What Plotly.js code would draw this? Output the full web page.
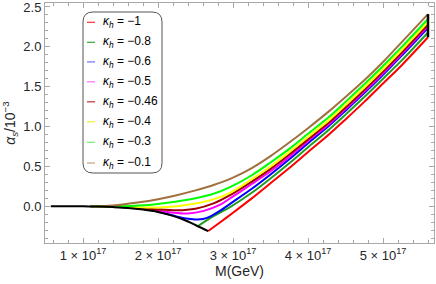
<!DOCTYPE html>
<html>
<head>
<meta charset="utf-8">
<script src="https://cdn.plot.ly/plotly-3.0.1.min.js"></script>
<style>
html,body{margin:0;padding:0;background:#fff;}
#chart{width:436px;height:284px;}
</style>
</head>
<body>
<div id="chart"></div>
<script>
// M in units of 10^17 GeV, alpha_s in units of 10^-3
const kappaLabels = ['−1', '−0.8', '−0.6', '−0.5', '−0.46', '−0.4', '−0.3', '−0.1'];
const curveColors = ['#ff0000', '#1f9e1f', '#0000ff', '#ff00ff', '#a00000', '#ffff00', '#00ff00', '#a0703f'];
const legendColors = ['#ff3030', '#33aa33', '#7070ff', '#ff70ff', '#c03030', '#f0f030', '#70f070', '#c0a080'];

const xK100 = [2.67, 2.83, 3.0, 3.25, 3.5, 3.75, 4.0, 4.29, 4.5, 4.75, 5.0, 5.25, 5.6];
const yK100 = [-0.31, -0.20, -0.08, 0.10, 0.29, 0.48, 0.68, 0.91, 1.09, 1.31, 1.54, 1.77, 2.12];

const xK080 = [2.53, 2.7, 2.96, 3.25, 3.5, 3.75, 4.0, 4.29, 4.5, 4.75, 5.0, 5.25, 5.6];
const yK080 = [-0.25, -0.145, -0.01, 0.17, 0.35, 0.54, 0.74, 0.97, 1.15, 1.37, 1.60, 1.83, 2.18];

const xK060 = [1.1, 1.5, 1.8, 2.0, 2.2, 2.35, 2.5, 2.6, 2.7, 2.83, 2.96, 3.25, 3.5, 3.75, 4.0, 4.29, 4.5, 4.75, 5.0, 5.25, 5.6];
const yK060 = [0, -0.008, -0.035, -0.065, -0.115, -0.15, -0.165, -0.16, -0.125, -0.055, 0.03, 0.22, 0.40, 0.59, 0.79, 1.02, 1.20, 1.42, 1.65, 1.89, 2.24];

const xK050 = [1.1, 1.5, 1.8, 2.0, 2.2, 2.4, 2.6, 2.83, 2.96, 3.25, 3.5, 3.75, 4.0, 4.29, 4.5, 4.75, 5.0, 5.25, 5.6];
const yK050 = [0, -0.006, -0.03, -0.055, -0.08, -0.09, -0.06, 0.02, 0.10, 0.28, 0.44, 0.62, 0.82, 1.04, 1.22, 1.44, 1.67, 1.91, 2.26];

const xK046 = [1.1, 1.5, 1.8, 2.0, 2.25, 2.5, 2.75, 2.96, 3.25, 3.5, 3.75, 4.0, 4.29, 4.5, 4.75, 5.0, 5.25, 5.6];
const yK046 = [0, -0.005, -0.025, -0.04, -0.05, -0.03, 0.04, 0.14, 0.31, 0.47, 0.65, 0.84, 1.06, 1.24, 1.46, 1.69, 1.93, 2.28];

const xK040 = [1.1, 1.4, 1.7, 2.0, 2.25, 2.5, 2.75, 2.96, 3.25, 3.5, 3.75, 4.0, 4.29, 4.5, 4.75, 5.0, 5.25, 5.6];
const yK040 = [0, -0.004, -0.013, -0.015, 0.0, 0.035, 0.09, 0.17, 0.34, 0.50, 0.68, 0.87, 1.09, 1.27, 1.49, 1.72, 1.96, 2.31];

const xK030 = [1.1, 1.5, 1.75, 2.0, 2.25, 2.5, 2.75, 2.96, 3.25, 3.5, 3.75, 4.0, 4.29, 4.5, 4.75, 5.0, 5.25, 5.6];
const yK030 = [0, 0.0, 0.01, 0.03, 0.06, 0.10, 0.16, 0.24, 0.39, 0.55, 0.72, 0.91, 1.13, 1.31, 1.53, 1.76, 2.00, 2.35];

const xK010 = [1.1, 1.3, 1.5, 1.75, 2.0, 2.25, 2.5, 2.75, 3.0, 3.25, 3.5, 3.75, 4.0, 4.29, 4.5, 4.75, 5.0, 5.25, 5.6];
const yK010 = [0, 0.005, 0.02, 0.05, 0.09, 0.14, 0.20, 0.27, 0.36, 0.48, 0.63, 0.80, 0.98, 1.20, 1.37, 1.58, 1.81, 2.06, 2.41];

const xEnvelope = [0.57, 1.0, 1.2, 1.4, 1.6, 1.8, 2.0, 2.2, 2.4, 2.53, 2.67];
const yEnvelope = [0, 0, -0.003, -0.01, -0.02, -0.04, -0.07, -0.12, -0.19, -0.25, -0.31];

const xEdge = [5.6, 5.6];
const yEdge = [2.12, 2.41];

const xTickVals = [1, 2, 3, 4, 5];
const xTickText = ['1 × 10<sup>17</sup>', '2 × 10<sup>17</sup>', '3 × 10<sup>17</sup>', '4 × 10<sup>17</sup>', '5 × 10<sup>17</sup>'];
const yTickVals = [0, 0.5, 1.0, 1.5, 2.0, 2.5];
const yTickText = ['0.0', '0.5', '1.0', '1.5', '2.0', '2.5'];

const seriesX = [xK100, xK080, xK060, xK050, xK046, xK040, xK030, xK010];
const seriesY = [yK100, yK080, yK060, yK050, yK046, yK040, yK030, yK010];

const traces = [];
seriesX.forEach((xs, i) => {
  traces.push({
    x: xs, y: seriesY[i], type: 'scatter', mode: 'lines',
    line: {color: curveColors[i], width: 2, shape: 'spline', smoothing: 0.8},
    hoverinfo: 'skip', showlegend: false
  });
});
traces.push({
  x: xEnvelope, y: yEnvelope, type: 'scatter', mode: 'lines',
  line: {color: '#000000', width: 2, shape: 'spline', smoothing: 0.8},
  hoverinfo: 'skip', showlegend: false
});
traces.push({
  x: xEdge, y: yEdge, type: 'scatter', mode: 'lines',
  line: {color: '#000000', width: 2.5},
  hoverinfo: 'skip', showlegend: false
});

// legend (manual, Mathematica-style rounded frame)
const ML = 45, MR = 2, MT = 3, MB = 41, W = 436, H = 284;
const PW = W - ML - MR, PH = H - MT - MB;
const px2x = p => (p - ML) / PW;
const py2y = p => (H - MB - p) / PH;

const bx0 = px2x(83), bx1 = px2x(162), by0 = py2y(173), by1 = py2y(12);
const rx = 10 / PW, ry = 10 / PH;
const boxPath = `M ${bx0 + rx},${by1} L ${bx1 - rx},${by1} Q ${bx1},${by1} ${bx1},${by1 - ry} ` +
  `L ${bx1},${by0 + ry} Q ${bx1},${by0} ${bx1 - rx},${by0} L ${bx0 + rx},${by0} ` +
  `Q ${bx0},${by0} ${bx0},${by0 + ry} L ${bx0},${by1 - ry} Q ${bx0},${by1} ${bx0 + rx},${by1} Z`;

const shapes = [{
  type: 'path', xref: 'paper', yref: 'paper', path: boxPath,
  line: {color: '#555555', width: 1}, fillcolor: 'rgba(255,255,255,1)', layer: 'above'
}];
const annotations = [];
const rowY = [22.3, 42.3, 61.9, 81.8, 101.8, 121.8, 142.3, 163.0];
kappaLabels.forEach((k, i) => {
  const yy = py2y(rowY[i]);
  shapes.push({
    type: 'line', xref: 'paper', yref: 'paper', x0: px2x(87), x1: px2x(95), y0: yy, y1: yy,
    line: {color: legendColors[i], width: 1.2}, layer: 'above'
  });
  annotations.push({
    xref: 'paper', yref: 'paper', x: px2x(101), y: yy, xanchor: 'left', yanchor: 'middle',
    showarrow: false, text: '<i>κ</i><sub><i>h</i></sub> = ' + k,
    font: {family: 'Liberation Sans, Arial, sans-serif', size: 12, color: '#000'}
  });
});

const axisCommon = {
  showline: true, linecolor: '#a8a8a8', linewidth: 1, mirror: 'ticks',
  ticks: 'inside', ticklen: 5, tickcolor: '#a8a8a8', tickwidth: 1,
  showgrid: false, zeroline: false, ticklabeloverflow: 'allow',
  tickfont: {family: 'Liberation Sans, Arial, sans-serif', size: 13, color: '#262626'}
};

const layout = {
  width: W, height: H,
  margin: {l: ML, r: MR, t: MT, b: MB, pad: 0},
  paper_bgcolor: '#ffffff', plot_bgcolor: '#ffffff',
  showlegend: false,
  xaxis: Object.assign({}, axisCommon, {
    range: [0.493, 5.68], tickmode: 'array', tickvals: xTickVals, ticktext: xTickText,
    minor: {dtick: 0.2, ticks: 'inside', ticklen: 3, tickcolor: '#a8a8a8', showgrid: false},
    title: {text: 'M(GeV)', standoff: 4, font: {family: 'Liberation Sans, Arial, sans-serif', size: 14, color: '#262626'}}
  }),
  yaxis: Object.assign({}, axisCommon, {
    range: [-0.46, 2.55], tickmode: 'array', tickvals: yTickVals, ticktext: yTickText,
    minor: {dtick: 0.1, ticks: 'inside', ticklen: 3, tickcolor: '#a8a8a8', showgrid: false},
    title: {text: '<i>α</i><sub><i>s</i></sub>/10<sup>−3</sup>', standoff: 4, font: {family: 'Liberation Sans, Arial, sans-serif', size: 14, color: '#262626'}}
  }),
  shapes: shapes,
  annotations: annotations
};

Plotly.newPlot('chart', traces, layout, {staticPlot: true, displayModeBar: false});
</script>
</body>
</html>
